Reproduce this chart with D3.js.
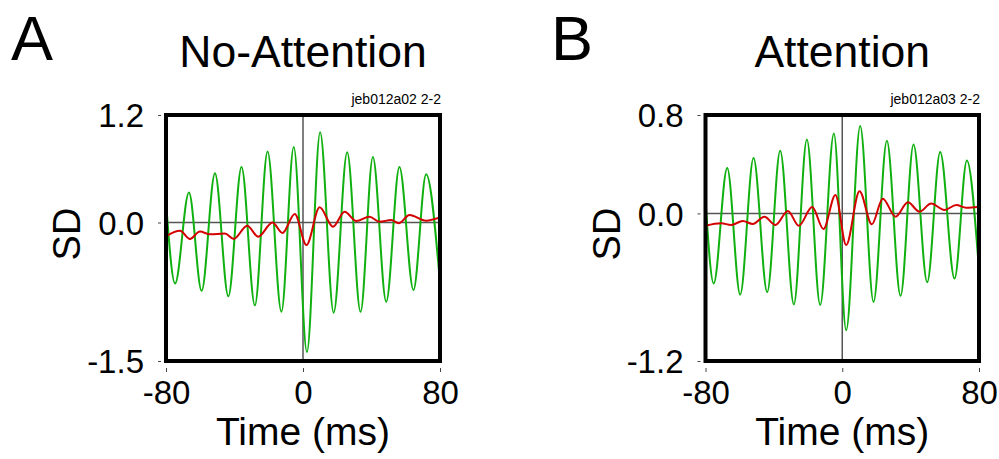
<!DOCTYPE html>
<html>
<head>
<meta charset="utf-8">
<script src="https://cdn.jsdelivr.net/npm/d3@7"></script>
<style>
  html, body { margin: 0; padding: 0; background: #fff; }
  svg { display: block; font-family: "Liberation Sans", Arial, Helvetica, sans-serif; }
</style>
</head>
<body>
<svg id="chart" width="999" height="459"></svg>
<script>
// Spike-triggered LFP averages (SD units), -80..80 ms around the spike.
// Each trace is stored as its turning points (time in ms, value in SD).

// Panel A: No-Attention
const timeGreenA = [-80, -74.7, -66.6, -59.2, -51.4, -43.6, -35.9, -28.1, -20.7, -12.6, -5.4, 2.3, 10.0, 17.9, 25.8, 33.6, 40.8, 48.6, 56.3, 64.5, 71.9, 79.5];
const sdGreenA   = [0.23, -0.67, 0.33, -0.75, 0.54, -0.81, 0.61, -0.91, 0.78, -0.98, 0.83, -1.42, 0.99, -0.99, 0.77, -0.98, 0.72, -0.87, 0.61, -0.74, 0.53, -0.55];
const timeRedA = [-80, -71.8, -66.0, -60.2, -54.3, -45.6, -40.4, -32.6, -26.2, -17.8, -12.0, -4.8, 2.0, 9.7, 17.5, 24.3, 31.1, 38.8, 44.7, 51.5, 55.9, 62.2, 71.9, 80];
const sdRedA   = [-0.15, -0.09, -0.18, -0.10, -0.13, -0.12, -0.18, -0.035, -0.155, 0.0, -0.115, 0.093, -0.247, 0.167, -0.046, 0.119, 0.016, 0.064, 0.009, 0.027, -0.009, 0.082, 0.02, 0.055];

// Panel B: Attention
const timeGreenB = [-80, -75.2, -67.3, -59.7, -51.9, -43.9, -36.3, -28.3, -20.7, -12.9, -4.9, 2.3, 10.5, 18.3, 26.1, 34.1, 41.7, 49.7, 57.3, 65.7, 72.9, 79.5];
const sdGreenB   = [0.10, -0.57, 0.37, -0.66, 0.45, -0.64, 0.51, -0.74, 0.60, -0.745, 0.65, -0.95, 0.71, -0.72, 0.59, -0.67, 0.56, -0.56, 0.50, -0.53, 0.43, -0.37];
const timeRedB = [-80, -70.8, -65.0, -58.2, -52.3, -45.5, -39.1, -31.8, -25.4, -17.6, -11.0, -4.0, 2.3, 10.1, 17.3, 23.7, 31.2, 38.4, 45.2, 52.0, 59.8, 66.7, 72.5, 80];
const sdRedB   = [-0.10, -0.08, -0.094, -0.062, -0.086, -0.027, -0.094, 0.02, -0.10, 0.052, -0.127, 0.15, -0.257, 0.18, -0.089, 0.12, -0.027, 0.09, 0.014, 0.08, 0.028, 0.068, 0.046, 0.054];

// Axes
const timeDomain = [-80, 80];
const xTickValues = [-80, 0, 80];
const xTickLabels = ["-80", "0", "80"];
const sdDomainA = [-1.52, 1.18];
const yTickLabelsA = ["-1.5", "0.0", "1.2"];
const sdDomainB = [-1.2, 0.8];
const yTickLabelsB = ["-1.2", "0.0", "0.8"];

const panels = [
  { letter: "A", title: "No-Attention", tag: "jeb012a02 2-2",
    x0: 166, x1: 440, letterX: 11,
    yDomain: sdDomainA, yLabels: yTickLabelsA,
    green: [timeGreenA, sdGreenA], red: [timeRedA, sdRedA] },
  { letter: "B", title: "Attention", tag: "jeb012a03 2-2",
    x0: 705.5, x1: 979, letterX: 551,
    yDomain: sdDomainB, yLabels: yTickLabelsB,
    green: [timeGreenB, sdGreenB], red: [timeRedB, sdRedB] }
];

const plotTop = 115, plotBottom = 361;
const svg = d3.select("#chart");

panels.forEach((p, i) => {
  const x = d3.scaleLinear().domain(timeDomain).range([p.x0, p.x1]);
  const y = d3.scaleLinear().domain(p.yDomain).range([plotBottom, plotTop]);
  const g = svg.append("g");

  // Panel letter and title
  g.append("text").attr("x", p.letterX).attr("y", 60)
    .attr("font-size", 63).attr("fill", "#000").text(p.letter);
  g.append("text").attr("x", x(0)).attr("y", 67)
    .attr("text-anchor", "middle").attr("font-size", 44.5).attr("fill", "#000").text(p.title);
  g.append("text").attr("x", p.x1 + 1).attr("y", 104)
    .attr("text-anchor", "end").attr("font-size", 14).attr("fill", "#000").text(p.tag);

  // Clip region for the traces
  const clipId = "clip" + i;
  svg.append("clipPath").attr("id", clipId)
    .append("rect").attr("x", p.x0).attr("y", plotTop)
    .attr("width", p.x1 - p.x0).attr("height", plotBottom - plotTop);

  // Reference lines at 0 SD and 0 ms
  g.append("line").attr("x1", p.x0).attr("x2", p.x1)
    .attr("y1", y(0)).attr("y2", y(0))
    .attr("stroke", "#555").attr("stroke-width", 1.5);
  g.append("line").attr("x1", x(0)).attr("x2", x(0))
    .attr("y1", plotTop).attr("y2", plotBottom)
    .attr("stroke", "#555").attr("stroke-width", 1.5);

  const line = d3.line().curve(d3.curveMonotoneX)
    .x(d => x(d[0])).y(d => y(d[1]));
  const toPts = ([ts, vs]) => ts.map((t, k) => [t, vs[k]]);

  const traces = g.append("g").attr("clip-path", `url(#${clipId})`);
  traces.append("path").datum(toPts(p.green)).attr("d", line)
    .attr("fill", "none").attr("stroke", "#10b010").attr("stroke-width", 2);
  traces.append("path").datum(toPts(p.red)).attr("d", line)
    .attr("fill", "none").attr("stroke", "#d40000").attr("stroke-width", 2);

  // Frame
  g.append("rect").attr("x", p.x0).attr("y", plotTop)
    .attr("width", p.x1 - p.x0).attr("height", plotBottom - plotTop)
    .attr("fill", "none").attr("stroke", "#000").attr("stroke-width", 4);

  // X axis
  const xAxis = d3.axisBottom(x).tickValues(xTickValues)
    .tickFormat((d, k) => xTickLabels[k]).tickSize(4).tickPadding(9);
  const xg = g.append("g").attr("transform", `translate(0,${plotBottom + 7})`).call(xAxis);
  xg.select(".domain").remove();
  xg.selectAll(".tick line").attr("stroke", "#444");
  xg.selectAll("text").attr("font-size", 33).attr("fill", "#000")
    .attr("font-family", "Liberation Sans, Arial, sans-serif");

  // Y axis
  const yTicks = [p.yDomain[0], 0, p.yDomain[1]];
  const yAxis = d3.axisLeft(y).tickValues(yTicks)
    .tickFormat((d, k) => p.yLabels[k]).tickSize(3).tickPadding(14);
  const yg = g.append("g").attr("transform", `translate(${p.x0 - 5},0)`).call(yAxis);
  yg.select(".domain").remove();
  yg.selectAll(".tick line").attr("stroke", "#444");
  yg.selectAll("text").attr("font-size", 33).attr("fill", "#000")
    .attr("dy", "0.36em")
    .attr("font-family", "Liberation Sans, Arial, sans-serif");

  // Axis titles
  g.append("text").attr("x", x(0)).attr("y", 445)
    .attr("text-anchor", "middle").attr("font-size", 39).attr("fill", "#000")
    .text("Time (ms)");
  g.append("text")
    .attr("transform", `translate(${p.x0 - 86},${(plotTop + plotBottom) / 2 - 4}) rotate(-90)`)
    .attr("text-anchor", "middle").attr("font-size", 38).attr("fill", "#000")
    .text("SD");
});
</script>
</body>
</html>
